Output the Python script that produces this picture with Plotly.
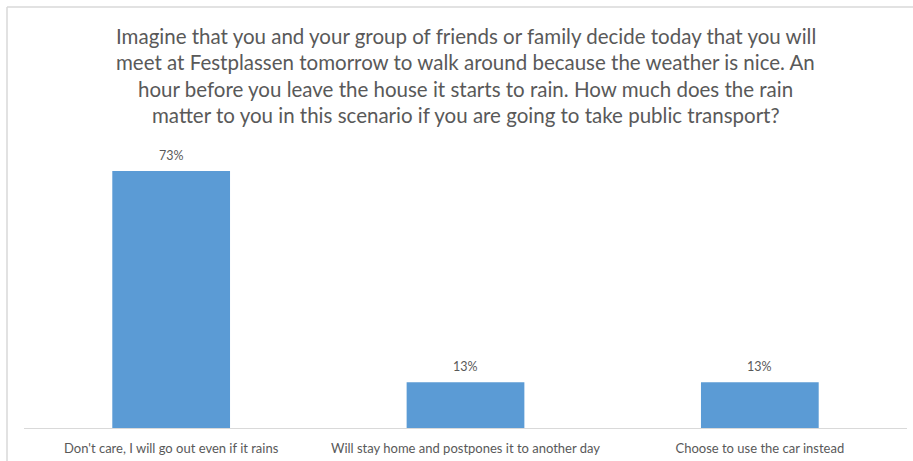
import plotly.graph_objects as go

# Survey responses: rain scenario, public transport
categories = [
    "Don't care, I will go out even if it rains",
    "Will stay home and postpones it to another day",
    "Choose to use the car instead",
]
shares = [73, 13, 13]
share_labels = ["73%", "13%", "13%"]

title_lines = [
    "Imagine that you and your group of friends or family decide today that you will",
    "meet at Festplassen tomorrow to walk around because the weather is nice. An",
    "hour before you leave the house it starts to rain. How much does the rain",
    "matter to you in this scenario if you are going to take public transport?",
]

FONT = "Lato"
GREY = "#595959"
W, H = 913, 461
ML, MR, MT, MB = 24, 6, 140, 33
plot_w = W - ML - MR
plot_h = H - MT - MB
px_per_pct = 3.52
y_max = plot_h / px_per_pct


def px_to_paper_x(px):
    return (px - ML) / plot_w


def px_to_paper_y(py):
    return (H - MB - py) / plot_h


fig = go.Figure(
    go.Bar(
        x=categories,
        y=shares,
        marker=dict(color="#5B9BD5", line=dict(width=0)),
        width=0.4,
        hoverinfo="x+y",
    )
)

annotations = []
# value labels sit just above each bar
for cat, val, lab in zip(categories, shares, share_labels):
    annotations.append(dict(
        x=cat, y=val, xref="x", yref="y",
        text=lab, showarrow=False,
        yanchor="bottom", yshift=6,
        font=dict(family=FONT, size=12.5, color=GREY),
    ))

# multi-line centred title, one annotation per line
title_centres = [35, 61, 88, 114]
for line, cy in zip(title_lines, title_centres):
    annotations.append(dict(
        x=0.5, y=px_to_paper_y(cy + 1), xref="paper", yref="paper",
        text=line, showarrow=False,
        xanchor="center", yanchor="middle",
        font=dict(family=FONT, size=20.5, color=GREY),
    ))

fig.update_layout(
    width=W,
    height=H,
    margin=dict(l=ML, r=MR, t=MT, b=MB),
    paper_bgcolor="white",
    plot_bgcolor="white",
    showlegend=False,
    xaxis=dict(
        showgrid=False,
        showline=True,
        linecolor="#D9D9D9",
        linewidth=1,
        ticks="",
        ticklabelstandoff=8,
        tickfont=dict(family=FONT, size=13, color=GREY),
        zeroline=False,
    ),
    yaxis=dict(
        range=[0, y_max],
        visible=False,
        showgrid=False,
        zeroline=False,
    ),
    annotations=annotations,
    shapes=[
        dict(type="line", xref="paper", yref="paper",
             x0=px_to_paper_x(7), x1=px_to_paper_x(W),
             y0=px_to_paper_y(7), y1=px_to_paper_y(7),
             line=dict(color="#D9D9D9", width=1.5)),
        dict(type="line", xref="paper", yref="paper",
             x0=px_to_paper_x(7), x1=px_to_paper_x(7),
             y0=px_to_paper_y(7), y1=px_to_paper_y(H),
             line=dict(color="#D9D9D9", width=1.5)),
    ],
)

fig.write_html("out.html")
